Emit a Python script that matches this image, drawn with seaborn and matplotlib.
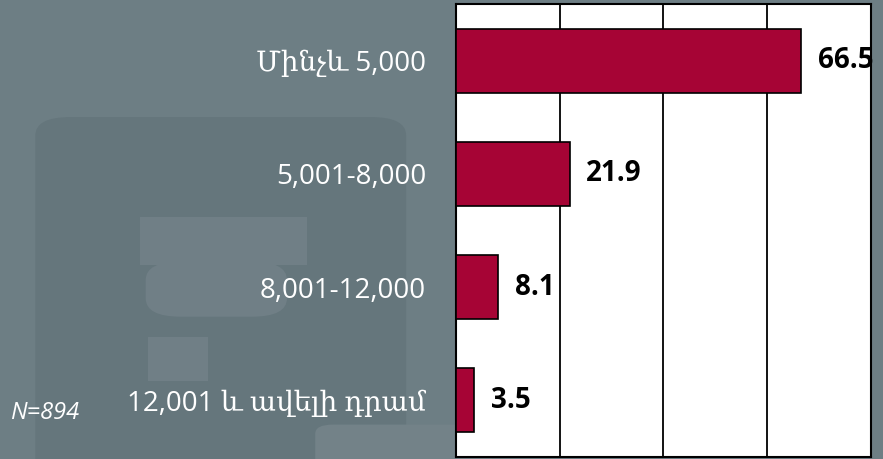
import pandas as pd
import seaborn as sns
import matplotlib.pyplot as plt
from matplotlib.patches import FancyBboxPatch, Rectangle

# data
categories = ['Մինչև 5,000', '5,001-8,000', '8,001-12,000', '12,001 և ավելի դրամ']
values = [66.5, 21.9, 8.1, 3.5]
x_ticks = [0, 20, 40, 60, 80]
sample_note = 'N=894'

bar_color = '#a60435'
bg_color = '#6d7e84'
shade_dark = '#65767c'
shade_light = '#707f86'
font_list = ['Open Sans', 'DejaVu Serif']

df = pd.DataFrame({'category': categories, 'value': values})

sns.set_theme(style='white')
plt.rcParams['font.family'] = font_list

fig = plt.figure(figsize=(8.83, 4.59), dpi=100)
fig.patch.set_facecolor(bg_color)

# faint watermark shapes behind everything
def add_shape(patch):
    patch.set_zorder(-5)
    fig.patches.append(patch)

add_shape(FancyBboxPatch((0.04, -0.1), 0.42, 0.845, boxstyle='round,pad=0,rounding_size=0.04',
                         transform=fig.transFigure, facecolor=shade_dark, edgecolor='none'))
add_shape(Rectangle((0.158, 0.422), 0.19, 0.105, transform=fig.transFigure,
                    facecolor=shade_light, edgecolor='none'))
add_shape(FancyBboxPatch((0.165, 0.31), 0.16, 0.12, boxstyle='round,pad=0,rounding_size=0.04',
                         transform=fig.transFigure, facecolor=shade_light, edgecolor='none'))
add_shape(Rectangle((0.168, 0.17), 0.068, 0.095, transform=fig.transFigure,
                    facecolor=shade_light, edgecolor='none'))
add_shape(FancyBboxPatch((0.357, -0.1), 0.2, 0.175, boxstyle='round,pad=0,rounding_size=0.02',
                         transform=fig.transFigure, facecolor='#738288', edgecolor='none'))

ax = fig.add_axes([0.5164, 0.0044, 0.47, 0.987])
ax.set_facecolor('white')

sns.barplot(data=df, y='category', x='value', orient='h', color=bar_color,
            width=0.565, edgecolor='black', linewidth=1.2, saturation=1, ax=ax, zorder=3)

ax.set_xlim(0, 80)
ax.set_xticks(x_ticks)
ax.xaxis.grid(True, color='black', linewidth=1.3)
ax.set_axisbelow(True)
ax.tick_params(axis='x', bottom=False, labelbottom=False)
ax.tick_params(axis='y', left=False, pad=15.5, labelsize=20, labelcolor='white')
ax.set_xlabel('')
ax.set_ylabel('')
for s in ax.spines.values():
    s.set_visible(True)
    s.set_color('black')
    s.set_linewidth(1.5)

for i, v in enumerate(values):
    ax.text(v + 3.2, i, f'{v}', va='center', ha='left', fontsize=20, fontweight='bold',
            color='black', clip_on=False, zorder=5)

fig.text(0.011, 0.1, sample_note, fontsize=17, style='italic', color='white', ha='left', va='center')

fig.savefig('out.png', dpi=100, facecolor=fig.get_facecolor())
